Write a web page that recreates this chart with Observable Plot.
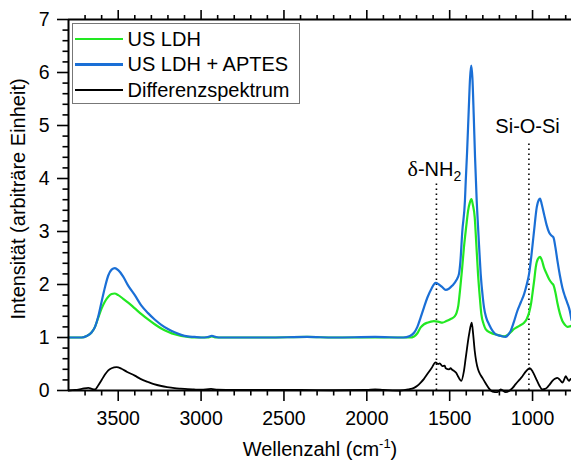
<!DOCTYPE html>
<html><head><meta charset="utf-8">
<script src="https://cdn.jsdelivr.net/npm/d3@7"></script>
<script src="https://cdn.jsdelivr.net/npm/@observablehq/plot@0.6"></script>
<style>
body{margin:0;background:#fff;}
#wrap{position:relative;width:571px;height:467px;font-family:"Liberation Sans",Arial,sans-serif;}
#legend{position:absolute;left:72px;top:23px;width:228px;height:81px;border:1.5px solid #777;background:#fff;box-sizing:border-box;}
.row{position:absolute;left:0;height:26px;display:flex;align-items:center;font-size:20px;color:#000;white-space:nowrap;}
.sw{width:48px;height:2.5px;margin-left:1.5px;margin-right:5px;}
</style></head>
<body><div id="wrap"></div>
<script>
// ---------- data ----------
const seriesNames = ["US LDH", "US LDH + APTES", "Differenzspektrum"];
const seriesColors = ["#22e822", "#1a6fd6", "#000000"];

const wnGreen = [3800,3720,3690,3660,3640,3620,3600,3580,3560,3540,3522,3500,3470,3440,3400,3360,3320,3280,3240,3200,3160,3120,3080,3040,2960,2935,2910,2600,2360,2200,1950,1780,1740,1715,1695,1675,1655,1635,1595,1570,1544,1520,1494,1470,1458,1448,1438,1425,1414,1400,1389,1378,1369,1360,1349,1340,1329,1318,1309,1295,1283,1253,1212,1172,1150,1132,1112,1080,1051,1035,1021,1010,1001,990,981,968,955,943,931,915,900,885,874,862,850,835,820,805,790,765];
const valGreen = [1.0,1.0,1.03,1.1,1.2,1.38,1.55,1.68,1.77,1.82,1.83,1.8,1.73,1.66,1.55,1.44,1.34,1.25,1.17,1.11,1.06,1.03,1.01,1.0,1.0,1.02,1.0,1.0,1.01,1.0,1.0,1.0,1.0,1.02,1.08,1.19,1.25,1.28,1.31,1.3,1.28,1.31,1.35,1.4,1.47,1.6,1.88,2.3,2.7,3.1,3.39,3.55,3.61,3.5,3.27,2.8,2.2,1.75,1.44,1.25,1.16,1.09,1.05,1.02,1.05,1.1,1.16,1.22,1.28,1.35,1.47,1.62,1.82,2.08,2.32,2.48,2.52,2.45,2.32,2.2,2.1,2.03,1.99,1.85,1.65,1.45,1.31,1.24,1.2,1.22];

const wnBlue = [3800,3720,3690,3660,3640,3620,3600,3580,3560,3540,3520,3500,3470,3440,3400,3360,3320,3280,3240,3200,3160,3120,3080,3040,3000,2960,2935,2910,2880,2600,2360,2200,1950,1780,1740,1715,1695,1675,1655,1635,1610,1585,1565,1545,1524,1505,1484,1460,1444,1435,1424,1408,1403,1395,1385,1377,1370,1363,1355,1347,1337,1333,1323,1313,1300,1293,1280,1263,1240,1222,1192,1162,1145,1132,1112,1092,1070,1051,1035,1021,1005,991,975,962,955,945,931,915,900,885,874,862,850,835,820,805,790,775,765];
const valBlue = [1.0,1.0,1.03,1.1,1.2,1.4,1.68,1.95,2.17,2.28,2.31,2.27,2.15,1.98,1.8,1.6,1.46,1.34,1.24,1.16,1.1,1.05,1.02,1.01,1.0,1.01,1.03,1.01,1.0,1.0,1.01,1.0,1.01,1.0,1.03,1.09,1.2,1.38,1.57,1.75,1.92,2.03,2.0,1.95,1.9,1.92,1.98,2.08,2.2,2.45,3.0,3.58,3.96,4.5,5.3,5.9,6.13,5.9,5.2,4.4,3.58,3.33,2.75,2.2,1.75,1.57,1.38,1.25,1.12,1.06,1.03,1.01,1.06,1.125,1.3,1.5,1.67,1.82,2.0,2.2,2.6,3.01,3.45,3.6,3.62,3.52,3.33,3.12,2.98,2.92,2.89,2.7,2.45,2.17,1.94,1.78,1.65,1.5,1.33];

const wnDiff = [3800,3760,3720,3680,3660,3640,3620,3600,3580,3560,3540,3510,3480,3446,3400,3366,3320,3285,3240,3205,3160,3124,3080,3044,3000,2940,2900,2800,2600,2400,2200,2000,1950,1900,1800,1750,1715,1695,1675,1655,1635,1610,1585,1570,1560,1544,1530,1524,1504,1495,1485,1474,1460,1450,1430,1415,1403,1383,1367,1358,1349,1340,1329,1315,1303,1288,1273,1258,1242,1212,1192,1162,1142,1120,1102,1080,1061,1040,1017,1000,981,960,941,925,911,895,880,865,850,835,820,810,800,790,780,770,765];
const valDiff = [0.0,0.01,0.03,0.05,0.03,0.02,0.1,0.2,0.3,0.38,0.42,0.44,0.41,0.35,0.28,0.22,0.16,0.12,0.085,0.065,0.045,0.035,0.025,0.02,0.015,0.03,0.015,0.01,0.01,0.01,0.005,0.01,0.02,0.01,0.0,0.02,0.05,0.09,0.15,0.22,0.31,0.42,0.53,0.5,0.51,0.46,0.47,0.42,0.4,0.42,0.39,0.37,0.33,0.27,0.18,0.35,0.62,1.06,1.28,1.05,0.75,0.55,0.4,0.3,0.24,0.16,0.085,0.02,-0.02,-0.03,0.02,-0.03,-0.01,0.05,0.12,0.2,0.27,0.36,0.42,0.36,0.24,0.1,0.02,0.03,0.06,0.12,0.18,0.22,0.24,0.2,0.15,0.2,0.27,0.22,0.18,0.22,0.2];

const xMajorTicks = [3500, 3000, 2500, 2000, 1500, 1000];
const xMinorTicks = [3700,3600,3400,3300,3200,3100,2900,2800,2700,2600,2400,2300,2200,2100,1900,1800,1700,1600,1400,1300,1200,1100,900,800];
const yMajorTicks = [0,1,2,3,4,5,6,7];
const yMinorTicks = [0.2,0.4,0.6,0.8,1.2,1.4,1.6,1.8,2.2,2.4,2.6,2.8,3.2,3.4,3.6,3.8,4.2,4.4,4.6,4.8,5.2,5.4,5.6,5.8,6.2,6.4,6.6,6.8];

const annotNames = ["δ-NH2", "Si-O-Si"];
const annotWn = [1580, 1022];
const annotLineTop = [3.9, 4.7];
const annotTextWn = [1592, 1030];
const annotTextY = [4.16, 4.97];

const xTitle = "Wellenzahl (cm-1)";
const yTitle = "Intensität (arbiträre Einheit)";

// ---------- build ----------
const toRows = (wn, v) => wn.map((w, i) => ({wn: w, v: v[i]}));
const green = toRows(wnGreen, valGreen);
const blue = toRows(wnBlue, valBlue);
const diff = toRows(wnDiff, valDiff);
const annots = annotNames.map((n, i) => ({name: n, wn: annotWn[i], top: annotLineTop[i], twn: annotTextWn[i], ty: annotTextY[i]}));
const blank = () => "";

const chart = Plot.plot({
  width: 571, height: 467,
  marginLeft: 68, marginRight: 0, marginTop: 19, marginBottom: 77,
  x: {domain: [3800, 765]},
  y: {domain: [0, 7]},
  style: {fontFamily: '"Liberation Sans", Arial, sans-serif', fontSize: "19.5px", color: "#000", background: "#fff", overflow: "visible"},
  marks: [
    Plot.ruleX(annots, {x: "wn", y1: 0, y2: "top", stroke: "#000", strokeWidth: 1.6, strokeDasharray: "1.6,3.4"}),
    Plot.line(green, {x: "wn", y: "v", stroke: seriesColors[0], strokeWidth: 2.2, curve: "monotone-x"}),
    Plot.line(blue, {x: "wn", y: "v", stroke: seriesColors[1], strokeWidth: 2.2, curve: "monotone-x"}),
    Plot.line(diff, {x: "wn", y: "v", stroke: seriesColors[2], strokeWidth: 1.8, curve: "monotone-x"}),
    Plot.ruleY([0, 7], {strokeWidth: 2}),
    Plot.ruleX([3800], {strokeWidth: 2}),
    Plot.axisX(xMajorTicks, {anchor: "bottom", tickSize: 11, tickPadding: 10, tickFormat: d => String(d), label: null, strokeWidth: 1.6}),
    Plot.axisX(xMinorTicks, {anchor: "bottom", tickSize: 5.5, tickFormat: blank, label: null, strokeWidth: 1.6}),
    Plot.axisX(xMajorTicks, {anchor: "top", tickSize: 10, tickFormat: blank, label: null, strokeWidth: 1.6}),
    Plot.axisX(xMinorTicks, {anchor: "top", tickSize: 5, tickFormat: blank, label: null, strokeWidth: 1.6}),
    Plot.axisY(yMajorTicks, {anchor: "left", tickSize: 11, tickPadding: 8, tickFormat: d => String(d), label: null, strokeWidth: 1.6}),
    Plot.axisY(yMinorTicks, {anchor: "left", tickSize: 5.5, tickFormat: blank, label: null, strokeWidth: 1.6}),
    Plot.text([xTitle], {frameAnchor: "bottom", dy: 65.6, fontSize: 20, text: d => d}),
    Plot.text([yTitle], {frameAnchor: "left", textAnchor: "middle", rotate: -90, dx: -50, dy: -6, fontSize: 20, text: d => d}),
    Plot.text(annots, {x: "twn", y: "ty", text: "name", fontSize: 20})
  ]
});

// rich text: superscript / subscript
chart.querySelectorAll("text").forEach(t => {
  if (t.textContent === xTitle) {
    t.innerHTML = 'Wellenzahl (cm<tspan font-size="13" dy="-8">-1</tspan><tspan dy="8">)</tspan>';
  } else if (t.textContent === "δ-NH2") {
    t.innerHTML = '<tspan font-family="Liberation Serif, Times New Roman, serif" font-size="22">δ</tspan>-NH<tspan font-size="14" dy="5">2</tspan>';
  }
});

const wrap = document.getElementById("wrap");
wrap.appendChild(chart);

// legend
const leg = document.createElement("div");
leg.id = "legend";
const rowTops = [2, 27.5, 53];
seriesNames.forEach((n, i) => {
  const r = document.createElement("div");
  r.className = "row";
  r.style.top = rowTops[i] + "px";
  const sw = document.createElement("div");
  sw.className = "sw";
  sw.style.background = seriesColors[i];
  if (i === 2) sw.style.height = "2px";
  r.appendChild(sw);
  const tx = document.createElement("span");
  tx.textContent = n;
  r.appendChild(tx);
  leg.appendChild(r);
});
wrap.appendChild(leg);
</script>
</body></html>
